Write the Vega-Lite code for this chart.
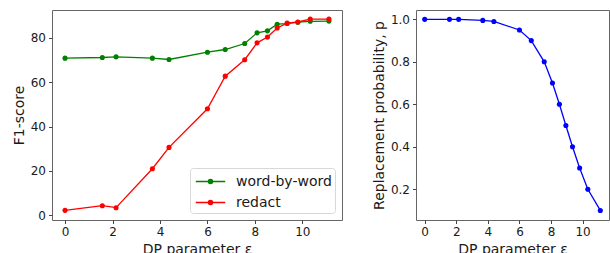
{
  "$schema": "https://vega.github.io/schema/vega-lite/v6.json",
  "padding": {"left": 11, "top": 9, "right": 0, "bottom": 0},
  "background": "white",
  "spacing": 28,
  "resolve": {"legend": {"color": "independent"}, "scale": {"color": "independent"}},
  "config": {
    "font": "DejaVu Sans",
    "view": {"stroke": "#666", "strokeWidth": 1},
    "axis": {
      "grid": false,
      "domain": false,
      "tickColor": "#444",
      "tickSize": 3.5,
      "labelFontSize": 12,
      "labelColor": "#1a1a1a",
      "labelPadding": 3,
      "titleFontSize": 14,
      "titleFontWeight": "normal",
      "titleColor": "#1a1a1a"
    }
  },
  "datasets": {
    "f1": [
      {"eps": 0, "series": "word-by-word", "f1": 70.8},
      {"eps": 1.57, "series": "word-by-word", "f1": 71.1},
      {"eps": 2.15, "series": "word-by-word", "f1": 71.4},
      {"eps": 3.68, "series": "word-by-word", "f1": 70.8},
      {"eps": 4.38, "series": "word-by-word", "f1": 70.2},
      {"eps": 6.0, "series": "word-by-word", "f1": 73.5},
      {"eps": 6.75, "series": "word-by-word", "f1": 74.7},
      {"eps": 7.57, "series": "word-by-word", "f1": 77.4},
      {"eps": 8.09, "series": "word-by-word", "f1": 82.2},
      {"eps": 8.53, "series": "word-by-word", "f1": 83.1},
      {"eps": 8.94, "series": "word-by-word", "f1": 86.1},
      {"eps": 9.36, "series": "word-by-word", "f1": 86.4},
      {"eps": 9.81, "series": "word-by-word", "f1": 87.0},
      {"eps": 10.33, "series": "word-by-word", "f1": 87.4},
      {"eps": 11.12, "series": "word-by-word", "f1": 87.5},
      {"eps": 0, "series": "redact", "f1": 2.25},
      {"eps": 1.57, "series": "redact", "f1": 4.35},
      {"eps": 2.15, "series": "redact", "f1": 3.45},
      {"eps": 3.68, "series": "redact", "f1": 21.0},
      {"eps": 4.38, "series": "redact", "f1": 30.6},
      {"eps": 6.0, "series": "redact", "f1": 48.0},
      {"eps": 6.75, "series": "redact", "f1": 62.7},
      {"eps": 7.57, "series": "redact", "f1": 70.1},
      {"eps": 8.09, "series": "redact", "f1": 77.7},
      {"eps": 8.53, "series": "redact", "f1": 80.3},
      {"eps": 8.94, "series": "redact", "f1": 84.4},
      {"eps": 9.36, "series": "redact", "f1": 86.6},
      {"eps": 9.81, "series": "redact", "f1": 87.1},
      {"eps": 10.33, "series": "redact", "f1": 88.4},
      {"eps": 11.12, "series": "redact", "f1": 88.4}
    ],
    "prob": [
      {"eps": 0, "p": 1.0},
      {"eps": 1.57, "p": 1.0},
      {"eps": 2.15, "p": 1.0},
      {"eps": 3.68, "p": 0.995},
      {"eps": 4.38, "p": 0.99},
      {"eps": 6.0, "p": 0.95},
      {"eps": 6.75, "p": 0.9},
      {"eps": 7.57, "p": 0.8},
      {"eps": 8.09, "p": 0.7},
      {"eps": 8.53, "p": 0.6},
      {"eps": 8.94, "p": 0.5},
      {"eps": 9.36, "p": 0.4},
      {"eps": 9.81, "p": 0.3},
      {"eps": 10.33, "p": 0.2},
      {"eps": 11.12, "p": 0.1}
    ]
  },
  "hconcat": [
    {
      "width": 290,
      "height": 210,
      "data": {"name": "f1"},
      "mark": {"type": "line", "strokeWidth": 1.3, "point": {"filled": true, "size": 26, "opacity": 1}},
      "encoding": {
        "x": {"field": "eps", "type": "quantitative", "scale": {"domain": [-0.55, 11.67], "nice": false, "zero": false},
              "axis": {"values": [0, 2, 4, 6, 8, 10], "title": "DP parameter ε", "titlePadding": 5, "labelPadding": 3}},
        "y": {"field": "f1", "type": "quantitative", "scale": {"domain": [-2.1, 92.5], "nice": false, "zero": false},
              "axis": {"values": [0, 20, 40, 60, 80], "title": "F1-score", "titlePadding": 4}},
        "color": {"field": "series", "type": "nominal",
                  "scale": {"domain": ["word-by-word", "redact"], "range": ["#008000", "#ff0000"]},
                  "legend": {
                    "title": null,
                    "orient": "bottom-right",
                    "offset": 7,
                    "symbolType": "M-1.55,0H1.55M-0.22,0A0.22,0.22 0 1,1 0.22,0A0.22,0.22 0 1,1 -0.22,0Z",
                    "symbolSize": 361,
                    "symbolOffset": 7,
                    "symbolStrokeWidth": 1.4,
                    "labelFontSize": 14,
                    "labelColor": "#1a1a1a",
                    "labelOffset": 15,
                    "rowPadding": 3,
                    "padding": 3,
                    "strokeColor": "#d8d8d8",
                    "fillColor": "white",
                    "cornerRadius": 3,
                    "encode": {"symbols": {"update": {"fill": {"scale": "concat_0_color", "field": "value"}, "stroke": {"scale": "concat_0_color", "field": "value"}, "opacity": {"value": 1}}}}
                  }}
      }
    },
    {
      "width": 193,
      "height": 210,
      "data": {"name": "prob"},
      "mark": {"type": "line", "strokeWidth": 1.3, "color": "#0000ff", "point": {"filled": true, "size": 26, "color": "#0000ff", "opacity": 1}},
      "encoding": {
        "x": {"field": "eps", "type": "quantitative", "scale": {"domain": [-0.55, 11.67], "nice": false, "zero": false},
              "axis": {"values": [0, 2, 4, 6, 8, 10], "title": "DP parameter ε", "titlePadding": 5, "labelPadding": 3}},
        "y": {"field": "p", "type": "quantitative", "scale": {"domain": [0.055, 1.044], "nice": false, "zero": false},
              "axis": {"values": [0.2, 0.4, 0.6, 0.8, 1.0], "format": ".1f", "title": "Replacement probability, p", "titlePadding": 4}}
      }
    }
  ]
}
